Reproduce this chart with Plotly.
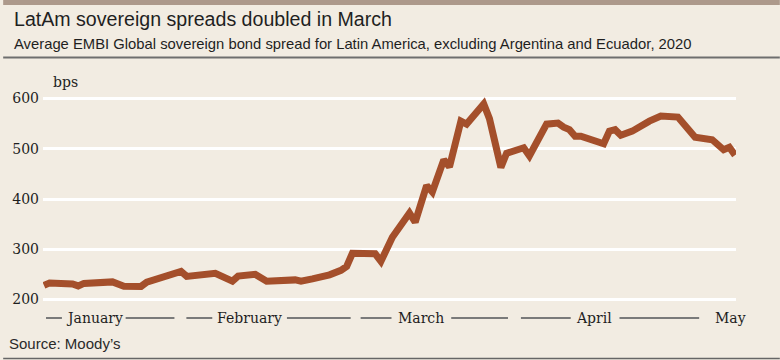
import pandas as pd
import plotly.graph_objects as go

# Day offset from 1 Jan 2020 and average spread (bps)
day_offsets = [0, 1, 5, 6, 7, 10, 12, 14, 17, 18, 21, 24, 25, 28, 30, 33, 34, 37, 39,
               44, 45, 47, 50, 52, 53, 54, 58, 59, 61, 64, 65, 67, 68, 70, 71, 73, 74,
               77, 78, 80, 81, 84, 85, 88, 90, 91, 92, 93, 94, 98, 99, 100, 101, 103,
               105, 106, 108, 111, 114, 117, 119, 120, 121]
spread_bps = [228, 233, 231, 227, 232, 232, 235, 226.5, 226, 234.5, 244.5, 256, 246, 251,
              252, 236.5, 246.5, 250, 236.5, 239, 236.5, 241, 249, 258, 266, 292, 291,
              276, 324, 372, 354, 427, 414, 478, 464, 555, 549, 589, 560, 463, 491, 502,
              486, 549, 551, 543, 538, 525, 525, 510, 535, 538, 527, 535, 551, 555, 565,
              563, 523, 518, 498, 503, 487]
y_ticks = [200, 300, 400, 500, 600]
month_labels = ["January", "February", "March", "April", "May"]

dates = [pd.Timestamp("2020-01-01") + pd.Timedelta(days=d) for d in day_offsets]

W, H = 780, 360
L, R, T, B = 40, 44, 96, 58
PW, PH = W - L - R, H - T - B


def px(x):
    return (x - L) / PW


def py(y):
    return (H - B - y) / PH


BG = "#f2ece2"
LINE = "#a44f2b"
SERIF = "DejaVu Serif"
SANS = "Liberation Sans"

fig = go.Figure()
fig.add_trace(go.Scatter(x=dates, y=spread_bps, mode="lines",
                         line=dict(color=LINE, width=7), hoverinfo="skip",
                         showlegend=False))

x0 = pd.Timestamp("2020-01-01") - pd.Timedelta(hours=4)
x1 = pd.Timestamp("2020-05-01") + pd.Timedelta(hours=4)

fig.update_layout(
    width=W, height=H,
    margin=dict(l=L, r=R, t=T, b=B),
    paper_bgcolor=BG, plot_bgcolor=BG,
    xaxis=dict(range=[x0, x1], showgrid=False, showticklabels=False,
               zeroline=False, showline=False, ticks=""),
    yaxis=dict(range=[195, 605], tickvals=y_ticks, ticktext=[str(v) for v in y_ticks],
               showgrid=True, gridcolor="#ffffff", gridwidth=3, zeroline=False,
               showline=False, ticks="", ticklabelstandoff=3,
               tickfont=dict(family=SERIF, size=14, color="#1e1e1e")),
)

ann = []
# title and subtitle
ann.append(dict(text="LatAm sovereign spreads doubled in March", x=px(9), y=py(19),
                xref="paper", yref="paper", xanchor="left", yanchor="middle",
                showarrow=False, font=dict(family=SANS, size=19.6, color="#1f1f1f")))
ann.append(dict(text="Average EMBI Global sovereign bond spread for Latin America, excluding Argentina and Ecuador, 2020",
                x=px(9), y=py(44), xref="paper", yref="paper", xanchor="left",
                yanchor="middle", showarrow=False,
                font=dict(family=SANS, size=14.8, color="#1f1f1f")))
ann.append(dict(text="bps", x=px(48), y=py(82), xref="paper", yref="paper",
                xanchor="left", yanchor="middle", showarrow=False,
                font=dict(family=SERIF, size=14, color="#1e1e1e")))
ann.append(dict(text="Source: Moody\u2019s", x=px(4), y=py(343), xref="paper", yref="paper",
                xanchor="left", yanchor="middle", showarrow=False,
                font=dict(family=SANS, size=15, color="#2a2a2a")))

# month labels with dash rules
label_centres = [92, 247, 420, 593, 730]
dash_segments = [[(43, 59), (123, 172)], [(184, 210), (285, 349)],
                 [(359, 390), (450, 507)], [(520, 570), (619, 699)], []]
for name, cx in zip(month_labels, label_centres):
    ann.append(dict(text=name, x=px(cx), y=py(318), xref="paper", yref="paper",
                    xanchor="center", yanchor="middle", showarrow=False,
                    font=dict(family=SERIF, size=14, color="#1e1e1e")))

shapes = []
for segs in dash_segments:
    for a, b in segs:
        shapes.append(dict(type="line", xref="paper", yref="paper", x0=px(a), x1=px(b),
                           y0=py(318), y1=py(318), line=dict(color="#7a7a7a", width=2)))
# top band and rules
shapes.append(dict(type="rect", xref="paper", yref="paper", x0=px(0), x1=px(W),
                   y0=py(0), y1=py(5), fillcolor="#ad998b", line=dict(width=0), layer="above"))
shapes.append(dict(type="line", xref="paper", yref="paper", x0=px(0), x1=px(W),
                   y0=py(57.5), y1=py(57.5), line=dict(color="#6e6e6e", width=2)))
shapes.append(dict(type="line", xref="paper", yref="paper", x0=px(0), x1=px(W),
                   y0=py(358.5), y1=py(358.5), line=dict(color="#666666", width=1.5)))

fig.update_layout(annotations=ann, shapes=shapes)
fig.write_html("out.html", config={"displayModeBar": False},
               post_script="document.body.style.margin='0';document.body.style.background='%s';" % BG)
